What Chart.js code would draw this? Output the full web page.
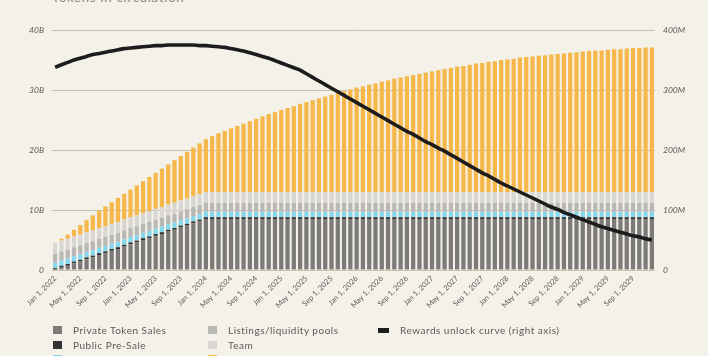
<!DOCTYPE html>
<html>
<head>
<meta charset="utf-8">
<script src="https://cdn.jsdelivr.net/npm/chart.js@4.4.0/dist/chart.umd.min.js"></script>
<style>
  html,body{margin:0;padding:0;background:#f4f1e8;overflow:hidden;}
  #wrap{position:relative;width:708px;height:356px;overflow:hidden;background:#f4f1e8;}
  #title{position:absolute;left:52px;top:-11px;font:13px Lato,sans-serif;color:#8a8782;letter-spacing:0.8px;white-space:nowrap;}
  canvas{position:absolute;left:0;top:0;}
  #legend{position:absolute;left:53px;top:323px;display:grid;grid-auto-flow:column;
    grid-template-rows:repeat(3,14.5px);grid-template-columns:155px 170px 200px;
    font:10px Lato,sans-serif;color:#5a5a5a;letter-spacing:0.5px;}
  .li{display:flex;align-items:center;white-space:nowrap;}
  .sw{width:9px;height:8px;margin-right:11px;flex:none;}
  .ln{width:11px;height:5px;margin-right:11px;flex:none;}
</style>
</head>
<body>
<div id="wrap">
  <div id="title">Tokens in circulation</div>
  <canvas id="c" width="708" height="356"></canvas>
  <div id="legend"></div>
</div>
<script>
// ---- data ----
const months = ["Jan","Feb","Mar","Apr","May","Jun","Jul","Aug","Sep","Oct","Nov","Dec"];
const years = [2022,2023,2024,2025,2026,2027,2028,2029];
const categories = [];
for (const y of years) for (const m of months) categories.push(m + " 1, " + y);

const seriesNames = ["Private Token Sales","Public Pre-Sale","Ecosystem fund","Listings/liquidity pools","Team","Rewards","Rewards unlock curve (right axis)"];

// billions of tokens
const privateSales = [0,0.4,0.7,1.1,1.4,1.8,2.1,2.5,2.8,3.2,3.5,3.9,4.3,4.6,5.0,5.3,5.7,6.0,6.4,6.7,7.1,7.4,7.8,8.1,
 8.5,8.5,8.5,8.5,8.5,8.5,8.5,8.5,8.5,8.5,8.5,8.5,8.5,8.5,8.5,8.5,8.5,8.5,8.5,8.5,8.5,8.5,8.5,8.5,
 8.5,8.5,8.5,8.5,8.5,8.5,8.5,8.5,8.5,8.5,8.5,8.5,8.5,8.5,8.5,8.5,8.5,8.5,8.5,8.5,8.5,8.5,8.5,8.5,
 8.5,8.5,8.5,8.5,8.5,8.5,8.5,8.5,8.5,8.5,8.5,8.5,8.5,8.5,8.5,8.5,8.5,8.5,8.5,8.5,8.5,8.5,8.5,8.5];
const publicPreSale = [0.3,0.3,0.3,0.3,0.3,0.3,0.3,0.3,0.3,0.3,0.3,0.3,0.3,0.3,0.3,0.3,0.3,0.3,0.3,0.3,0.3,0.3,0.3,0.3,
 0.3,0.3,0.3,0.3,0.3,0.3,0.3,0.3,0.3,0.3,0.3,0.3,0.3,0.3,0.3,0.3,0.3,0.3,0.3,0.3,0.3,0.3,0.3,0.3,
 0.3,0.3,0.3,0.3,0.3,0.3,0.3,0.3,0.3,0.3,0.3,0.3,0.3,0.3,0.3,0.3,0.3,0.3,0.3,0.3,0.3,0.3,0.3,0.3,
 0.3,0.3,0.3,0.3,0.3,0.3,0.3,0.3,0.3,0.3,0.3,0.3,0.3,0.3,0.3,0.3,0.3,0.3,0.3,0.3,0.3,0.3,0.3,0.3];
const ecosystem = [0.9,0.9,0.9,0.9,0.9,0.9,0.9,0.9,0.9,0.9,0.9,0.9,0.9,0.9,0.9,0.9,0.9,0.9,0.9,0.9,0.9,0.9,0.9,0.9,
 0.9,0.9,0.9,0.9,0.9,0.9,0.9,0.9,0.9,0.9,0.9,0.9,0.9,0.9,0.9,0.9,0.9,0.9,0.9,0.9,0.9,0.9,0.9,0.9,
 0.9,0.9,0.9,0.9,0.9,0.9,0.9,0.9,0.9,0.9,0.9,0.9,0.9,0.9,0.9,0.9,0.9,0.9,0.9,0.9,0.9,0.9,0.9,0.9,
 0.9,0.9,0.9,0.9,0.9,0.9,0.9,0.9,0.9,0.9,0.9,0.9,0.9,0.9,0.9,0.9,0.9,0.9,0.9,0.9,0.9,0.9,0.9,0.9];
const listings = [1.5,1.5,1.5,1.5,1.5,1.5,1.5,1.5,1.5,1.5,1.5,1.5,1.5,1.5,1.5,1.5,1.5,1.5,1.5,1.5,1.5,1.5,1.5,1.5,
 1.5,1.5,1.5,1.5,1.5,1.5,1.5,1.5,1.5,1.5,1.5,1.5,1.5,1.5,1.5,1.5,1.5,1.5,1.5,1.5,1.5,1.5,1.5,1.5,
 1.5,1.5,1.5,1.5,1.5,1.5,1.5,1.5,1.5,1.5,1.5,1.5,1.5,1.5,1.5,1.5,1.5,1.5,1.5,1.5,1.5,1.5,1.5,1.5,
 1.5,1.5,1.5,1.5,1.5,1.5,1.5,1.5,1.5,1.5,1.5,1.5,1.5,1.5,1.5,1.5,1.5,1.5,1.5,1.5,1.5,1.5,1.5,1.5];
const team = [1.8,1.8,1.8,1.8,1.8,1.8,1.8,1.8,1.8,1.8,1.8,1.8,1.8,1.8,1.8,1.8,1.8,1.8,1.8,1.8,1.8,1.8,1.8,1.8,
 1.8,1.8,1.8,1.8,1.8,1.8,1.8,1.8,1.8,1.8,1.8,1.8,1.8,1.8,1.8,1.8,1.8,1.8,1.8,1.8,1.8,1.8,1.8,1.8,
 1.8,1.8,1.8,1.8,1.8,1.8,1.8,1.8,1.8,1.8,1.8,1.8,1.8,1.8,1.8,1.8,1.8,1.8,1.8,1.8,1.8,1.8,1.8,1.8,
 1.8,1.8,1.8,1.8,1.8,1.8,1.8,1.8,1.8,1.8,1.8,1.8,1.8,1.8,1.8,1.8,1.8,1.8,1.8,1.8,1.8,1.8,1.8,1.8];
const rewards = [0,0.3,0.7,1.1,1.6,2.0,2.5,2.9,3.3,3.6,4.0,4.3,4.6,5.0,5.3,5.7,6.0,6.4,6.7,7.1,7.4,7.8,8.1,8.5,
 8.8,9.3,9.8,10.2,10.6,11.0,11.4,11.8,12.2,12.6,13.0,13.3,13.7,14.0,14.3,14.7,15.0,15.3,15.6,15.9,16.2,16.5,16.8,17.1,
 17.4,17.6,17.9,18.1,18.4,18.6,18.9,19.1,19.3,19.5,19.7,19.9,20.1,20.3,20.5,20.7,20.9,21.0,21.2,21.4,21.5,21.7,21.8,22.0,
 22.1,22.2,22.4,22.5,22.6,22.7,22.8,22.9,23.0,23.1,23.2,23.3,23.4,23.5,23.6,23.6,23.7,23.8,23.8,23.9,24.0,24.0,24.1,24.1];
// millions (right axis)
const unlockCurve = [338,342,346,350,353,356,359,361,363,365,367,369,370,371,372,373,374,374,375,375,375,375,375,374,
 374,373,372,371,369,367,365,362,359,356,353,349,345,341,337,333,327,321,315,309,303,297,291,285,
 279,273,267,261,255,249,243,237,231,226,220,214,209,203,198,192,186,180,174,168,162,157,151,145,
 140,135,130,125,120,115,110,105,101,96,92,88,84,80,76,72,69,66,63,60,57,55,52,50];

const leftTicks = {0:"0",10:"10B",20:"20B",30:"30B",40:"40B"};
const rightTicks = {0:"0",100:"100M",200:"200M",300:"300M",400:"400M"};

const colors = ["#7c7b7a","#343434","#86d8ee","#b9b8b6","#d8d7d4","#f6b84b","#1c1c1c"];

const barSeries = [privateSales, publicPreSale, ecosystem, listings, team, rewards];

const datasets = barSeries.map((d,i)=>({
  type:"bar", label:seriesNames[i], data:d, backgroundColor:colors[i],
  yAxisID:"y", stack:"s", order:1, barPercentage:0.68, categoryPercentage:1.0, borderWidth:0
}));
datasets.push({
  type:"line", label:seriesNames[6], data:unlockCurve, borderColor:colors[6], backgroundColor:colors[6],
  borderWidth:3.6, pointRadius:0, tension:0.4, yAxisID:"y2", order:0, cubicInterpolationMode:"monotone"
});

const chart = new Chart(document.getElementById("c"), {
  type:"bar",
  data:{labels:categories, datasets},
  options:{
    responsive:false, animation:false,
    layout:{padding:{top:30,left:0,right:0,bottom:0}},
    plugins:{legend:{display:false}, tooltip:{enabled:false}},
    scales:{
      x:{
        stacked:true,
        grid:{display:false, drawTicks:false},
        border:{display:false},
        afterFit(s){ s.height = 86; },
        ticks:{
          autoSkip:false, minRotation:45, maxRotation:45, padding:4,
          color:"#5a5a5a", font:{family:"Lato", size:7.5},
          callback(v,i){ return i%4===0 ? categories[i] : ""; }
        }
      },
      y:{
        position:"left", stacked:true, min:0, max:40,
        afterFit(s){ s.width = 52; },
        border:{display:false},
        grid:{color:"#c8c1b1", lineWidth:1, drawTicks:false},
        ticks:{stepSize:10, padding:8, color:"#5a5a5a", font:{family:"Lato", size:8.5, style:"italic"},
          callback(v){ return leftTicks[v]; }}
      },
      y2:{
        position:"right", min:0, max:400,
        afterFit(s){ s.width = 53; },
        border:{display:false},
        grid:{display:false, drawTicks:false},
        ticks:{stepSize:100, padding:8, color:"#5a5a5a", font:{family:"Lato", size:8.5, style:"italic"},
          callback(v){ return rightTicks[v]; }}
      }
    }
  }
});

// HTML legend built from the chart's datasets
const lg = document.getElementById("legend");
chart.data.datasets.forEach(ds=>{
  const it = document.createElement("div"); it.className="li";
  const sw = document.createElement("span");
  sw.className = ds.type==="line" ? "ln" : "sw";
  sw.style.background = ds.type==="line" ? ds.borderColor : ds.backgroundColor;
  const tx = document.createElement("span"); tx.textContent = ds.label;
  it.appendChild(sw); it.appendChild(tx); lg.appendChild(it);
});
</script>
</body>
</html>
